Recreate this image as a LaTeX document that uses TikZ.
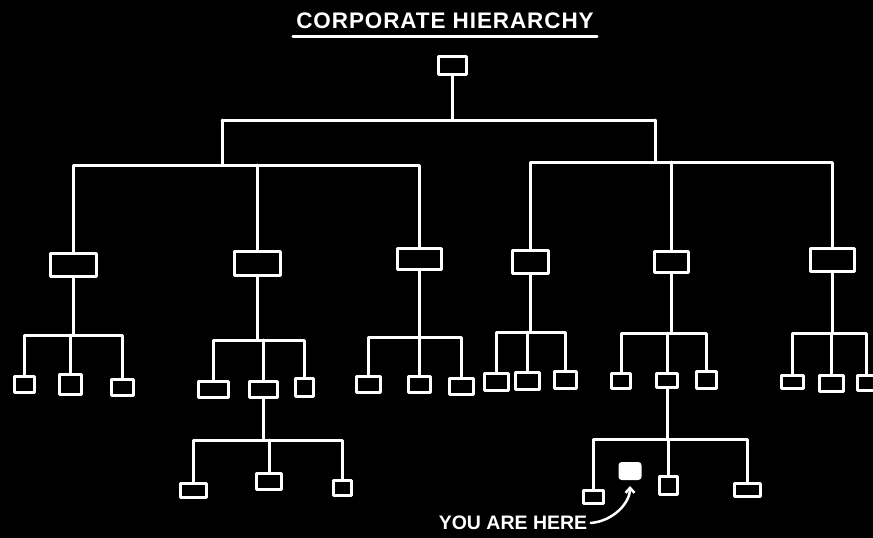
\documentclass[tikz,border=0pt]{standalone}
\usepackage{fontspec}
\setmainfont{Liberation Sans}
\usetikzlibrary{arrows.meta}

\tikzset{
  chalk/.style={draw=white, line width=3pt, line cap=round, line join=round},
  post/.style={chalk, inner sep=0pt},
}

\begin{document}
\begin{tikzpicture}[x=1pt,y=-1pt]
  \fill[black] (0,0) rectangle (873,538);
  \useasboundingbox (0,0) rectangle (873,538);
  % title
  \node[white, font=\fontsize{22.5}{22.5}\selectfont\bfseries\addfontfeatures{LetterSpace=4}, minimum width=304pt] (title) at (445,21) {CORPORATE HIERARCHY};
  \draw[chalk, line width=2.5pt] ([yshift=-4pt]title.south west) -- ([yshift=-4pt]title.south east);
  % boxes
  \node[post, minimum width=28, minimum height=18] (top) at (452,65) {};
  \foreach \n/\x/\y/\w/\h in {a/73/265/46/23, b/257/263/46/24, c/419/259/44/21,
      d/530/262/36/23, e/671/262/34/21, f/832/260/44/23,
      a1/24/384/20/16, a2/70/384/22/20, a3/122/387/22/16,
      b1/213/389/30/16, b2/263/389/28/16, b3/304/387/18/18,
      c1/368/384/24/16, c2/419/384/22/16, c3/461/386/24/16,
      d1/496/382/24/17, d2/527/381/24/17, d3/565/380/22/17,
      e1/621/381/19/15, e2/667/380/21/14, e3/706/380/20/17,
      f1/792/382/22/13, f2/831/383/24/16, f3/866/383/18/15,
      g1/193/490/26/14, g2/269/481/25/16, g3/342/488/18/15,
      h1/593/497/20/13, h2/668/485/18/18, h3/747/490/26/13}
    \node[post, minimum width=\w, minimum height=\h] (\n) at (\x,\y) {};
  \node[post, fill=white, rounded corners=2pt, minimum width=20, minimum height=15] (me) at (630,471) {};
  % top levels
  \coordinate (jl) at (222,120);
  \coordinate (jr) at (655,120);
  \coordinate (ml) at (222,165);
  \coordinate (mr) at (655,162);
  \draw[chalk] (top.south) -- (top.south |- jl);
  \draw[chalk] (jl) -- (jr);
  \draw[chalk] (jl) -- (ml);
  \draw[chalk] (jr) -- (mr);
  \draw[chalk] (a.north) |- (c.north |- ml) -- (c.north);
  \draw[chalk] (b.north) -- (b.north |- ml);
  \draw[chalk] (d.north) |- (f.north |- mr) -- (f.north);
  \draw[chalk] (e.north) -- (e.north |- mr);
  % groups
  \foreach \p/\l/\m/\r/\yb in {a/a1/a2/a3/335, b/b1/b2/b3/340, c/c1/c2/c3/337,
      d/d1/d2/d3/332, e/e1/e2/e3/333, f/f1/f2/f3/333, b2/g1/g2/g3/440, e2/h1/h2/h3/439} {
    \coordinate (bar) at (0,\yb);
    \draw[chalk] (\p.south) -- (\p.south |- bar);
    \draw[chalk] (\l.north) |- (\r.north |- bar) -- (\r.north);
    \draw[chalk] (\m.north) -- (\m.north |- bar);
  }
  % you are here
  \node[white, font=\fontsize{19.5}{19.5}\selectfont\bfseries] (here) at (513,523) {YOU ARE HERE};
  \draw[chalk, line width=2.5pt, shorten >=6pt, -{Straight Barb[length=5pt,width=9pt]}] (here.east) to[out=5, in=-90] (me.south);
\end{tikzpicture}
\end{document}
